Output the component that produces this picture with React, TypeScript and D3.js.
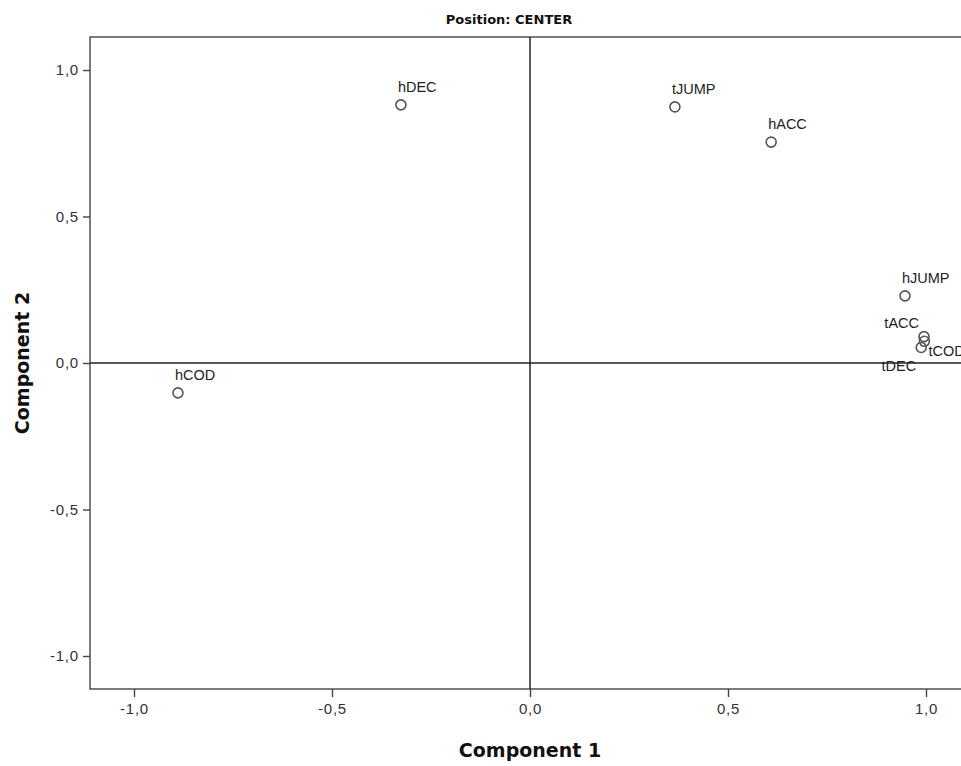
import React, { useEffect, useRef } from 'react'
import * as d3 from 'd3'

// component loadings
const variables = ['hDEC', 'tJUMP', 'hACC', 'hJUMP', 'tACC', 'tCOD', 'tDEC', 'hCOD']
const comp1 = [-0.326, 0.366, 0.609, 0.947, 0.995, 0.996, 0.988, -0.889]
const comp2 = [0.881, 0.874, 0.754, 0.229, 0.090, 0.074, 0.053, -0.102]
const tickValues = [-1.0, -0.5, 0.0, 0.5, 1.0]

const title = 'Position: CENTER'
const xTitle = 'Component 1'
const yTitle = 'Component 2'

const W = 961
const H = 766

export default function App() {
  const ref = useRef<SVGSVGElement>(null)

  useEffect(() => {
    const svg = d3.select(ref.current)
    svg.selectAll('*').remove()

    const left = 90, top = 37, right = 1000, bottom = 689

    const x = d3.scaleLinear().domain([-1, 1]).range([134, 926])
    const y = d3.scaleLinear().domain([-1, 1]).range([656, 70])

    // SPSS style: comma decimals, plain hyphen for minus
    const fmt = (d: d3.NumberValue) =>
      d3.format('.1f')(+d).replace('.', ',').replace('\u2212', '-')

    // frame
    svg.append('rect')
      .attr('x', left).attr('y', top)
      .attr('width', right - left).attr('height', bottom - top)
      .attr('fill', 'none').attr('stroke', '#444').attr('stroke-width', 1.4)

    // y axis
    const gy = svg.append('g')
      .attr('transform', `translate(${left},0)`)
      .call(d3.axisLeft(y).tickValues(tickValues).tickFormat(fmt).tickSize(7).tickPadding(4))
    gy.select('.domain').remove()
    gy.selectAll('line').attr('stroke', '#444').attr('stroke-width', 1.4)
    gy.selectAll('text')
      .attr('font-family', 'Liberation Sans, Arial, sans-serif')
      .attr('font-size', 15).attr('fill', '#333').attr('letter-spacing', 0.8)

    // x axis
    const gx = svg.append('g')
      .attr('transform', `translate(0,${bottom})`)
      .call(d3.axisBottom(x).tickValues(tickValues).tickFormat(fmt).tickSize(8).tickPadding(6))
    gx.select('.domain').remove()
    gx.selectAll('line').attr('stroke', '#444').attr('stroke-width', 1.4)
    gx.selectAll('text')
      .attr('font-family', 'Liberation Sans, Arial, sans-serif')
      .attr('font-size', 15).attr('fill', '#333').attr('letter-spacing', 0.8)

    // reference lines at zero
    svg.append('line')
      .attr('x1', x(0)).attr('x2', x(0)).attr('y1', top).attr('y2', bottom)
      .attr('stroke', '#222').attr('stroke-width', 1.5)
    svg.append('line')
      .attr('x1', left).attr('x2', right).attr('y1', y(0)).attr('y2', y(0))
      .attr('stroke', '#222').attr('stroke-width', 1.5)

    const pts = variables.map((name, i) => ({ name, c1: comp1[i], c2: comp2[i] }))

    // points
    svg.selectAll('circle.pt')
      .data(pts)
      .enter()
      .append('circle')
        .attr('class', 'pt')
        .attr('cx', d => x(d.c1))
        .attr('cy', d => y(d.c2))
        .attr('r', 5)
        .attr('fill', 'none')
        .attr('stroke', '#555')
        .attr('stroke-width', 1.6)

    // labels, crowded ones pushed aside
    const place: Record<string, [number, number, string]> = {
      tACC: [-5, -9, 'end'],
      tDEC: [-5, 24, 'end'],
      tCOD: [4, 15, 'start'],
    }
    svg.selectAll('text.lbl')
      .data(pts)
      .enter()
      .append('text')
        .attr('class', 'lbl')
        .attr('x', d => x(d.c1) + (place[d.name] ? place[d.name][0] : -3))
        .attr('y', d => y(d.c2) + (place[d.name] ? place[d.name][1] : -13))
        .attr('text-anchor', d => (place[d.name] ? place[d.name][2] : 'start'))
        .attr('font-family', 'Liberation Sans, Arial, sans-serif')
        .attr('font-size', 14.5)
        .attr('fill', '#222')
        .text(d => d.name)

    svg.append('text')
      .attr('x', 509).attr('y', 24)
      .attr('text-anchor', 'middle')
      .attr('font-family', 'DejaVu Sans, sans-serif')
      .attr('font-weight', 'bold').attr('font-size', 13).attr('fill', '#111')
      .text(title)

    svg.append('text')
      .attr('x', 530).attr('y', 757)
      .attr('text-anchor', 'middle')
      .attr('font-family', 'DejaVu Sans, sans-serif')
      .attr('font-weight', 'bold').attr('font-size', 19).attr('fill', '#111')
      .text(xTitle)

    svg.append('text')
      .attr('transform', `translate(29,363) rotate(-90)`)
      .attr('text-anchor', 'middle')
      .attr('font-family', 'DejaVu Sans, sans-serif')
      .attr('font-weight', 'bold').attr('font-size', 19).attr('fill', '#111')
      .text(yTitle)
  }, [])

  return (
    <svg ref={ref} width={W} height={H}
      style={{ position: 'absolute', left: 0, top: 0, background: '#fff', overflow: 'hidden' }} />
  )
}
